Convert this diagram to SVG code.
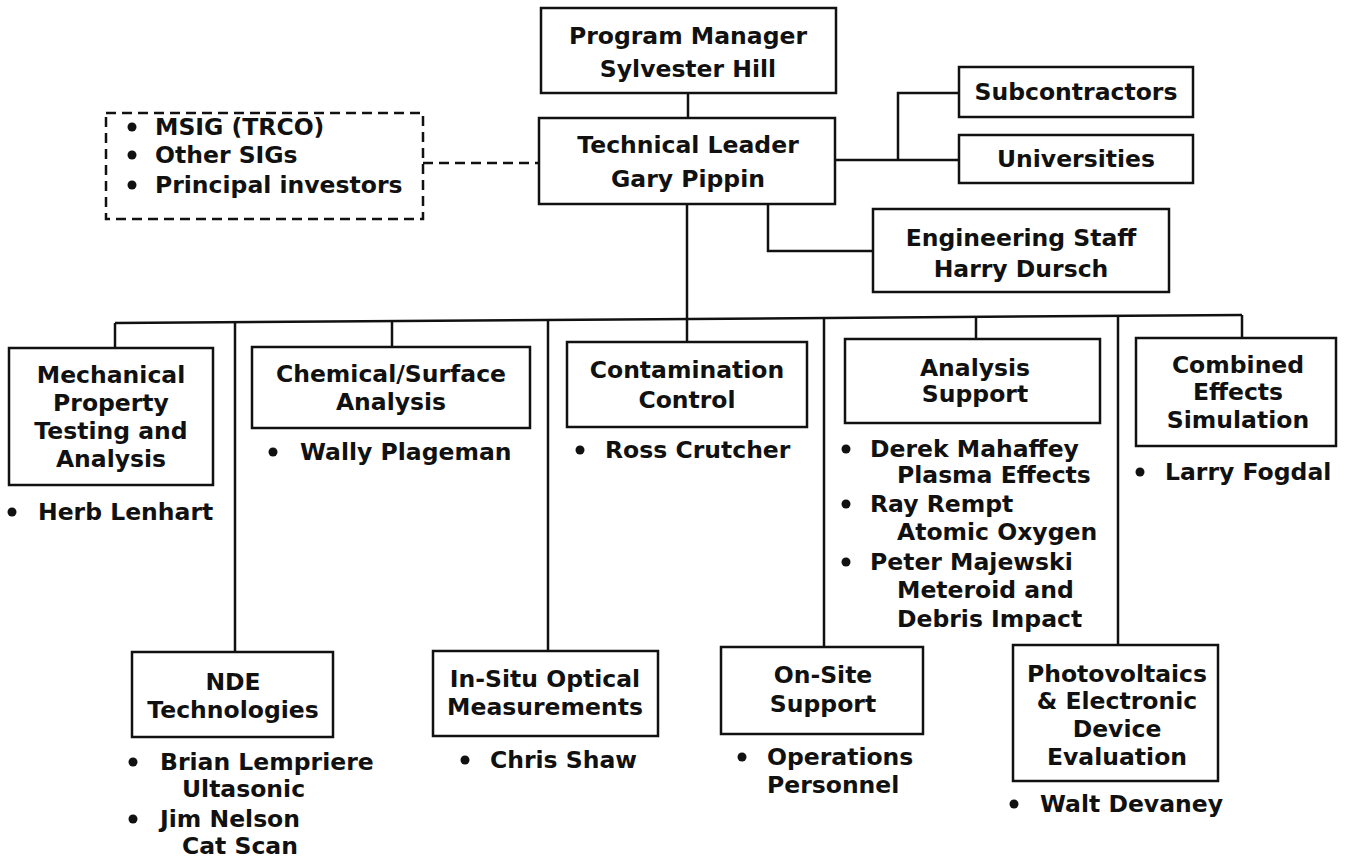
<svg xmlns="http://www.w3.org/2000/svg" width="1354" height="858" viewBox="0 0 1354 858">
  <style>
    .box { fill: #fff; stroke: #111; stroke-width: 2.5; }
    .ln { fill: none; stroke: #111; stroke-width: 2.5; }
    .dash { stroke-dasharray: 10 6; }
    text { font-family: "DejaVu Sans", "Liberation Sans", sans-serif; font-weight: bold; font-size: 23.5px; fill: #111; }
    .c { text-anchor: middle; }
    .dot { fill: #111; }
  </style>
  <rect width="1354" height="858" fill="#fff"/>

  <!-- connectors -->
  <g id="connectors">
    <path class="ln" d="M688 93 V118"/>
    <path class="ln dash" d="M423 163 H539"/>
    <path class="ln" d="M835 160 H959 M898 160 V93 H959"/>
    <path class="ln" d="M768 204 V251 H873"/>
    <path class="ln" d="M687 204 V342"/>
    <path class="ln" d="M115 323 L1242 315"/>
    <path class="ln" d="M115 323 V348"/>
    <path class="ln" d="M392 322 V347"/>
    <path class="ln" d="M976 316 V339"/>
    <path class="ln" d="M1242 315 V338"/>
    <path class="ln" d="M235 322 V652"/>
    <path class="ln" d="M548 319 V651"/>
    <path class="ln" d="M824 317 V647"/>
    <path class="ln" d="M1118 315 V645"/>
  </g>

  <g id="program-manager">
    <rect class="box" x="541" y="8" width="295" height="85"/>
    <text class="c" x="688" y="44">Program Manager</text>
    <text class="c" x="688" y="77">Sylvester Hill</text>
  </g>

  <g id="technical-leader">
    <rect class="box" x="539" y="118" width="296" height="86"/>
    <text class="c" x="688" y="153">Technical Leader</text>
    <text class="c" x="688" y="187">Gary Pippin</text>
  </g>

  <g id="advisors">
    <rect class="ln dash" x="106" y="113" width="317" height="106"/>
    <circle class="dot" cx="132" cy="127" r="4.5"/>
    <text x="155" y="135">MSIG (TRCO)</text>
    <circle class="dot" cx="132" cy="155" r="4.5"/>
    <text x="155" y="163">Other SIGs</text>
    <circle class="dot" cx="132" cy="185" r="4.5"/>
    <text x="155" y="193">Principal investors</text>
  </g>

  <g id="subcontractors">
    <rect class="box" x="959" y="67" width="234" height="50"/>
    <text class="c" x="1076" y="100">Subcontractors</text>
  </g>

  <g id="universities">
    <rect class="box" x="959" y="135" width="234" height="48"/>
    <text class="c" x="1076" y="167">Universities</text>
  </g>

  <g id="engineering-staff">
    <rect class="box" x="873" y="209" width="296" height="83"/>
    <text class="c" x="1021" y="246">Engineering Staff</text>
    <text class="c" x="1021" y="277">Harry Dursch</text>
  </g>

  <g id="mechanical">
    <rect class="box" x="9" y="348" width="204" height="137"/>
    <text class="c" x="111" y="383">Mechanical</text>
    <text class="c" x="111" y="411">Property</text>
    <text class="c" x="111" y="439">Testing and</text>
    <text class="c" x="111" y="467">Analysis</text>
    <circle class="dot" cx="12" cy="512" r="4.5"/>
    <text x="38" y="520">Herb Lenhart</text>
  </g>

  <g id="chemical">
    <rect class="box" x="252" y="347" width="278" height="81"/>
    <text class="c" x="391" y="382">Chemical/Surface</text>
    <text class="c" x="391" y="410">Analysis</text>
    <circle class="dot" cx="273" cy="452" r="4.5"/>
    <text x="300" y="460">Wally Plageman</text>
  </g>

  <g id="contamination">
    <rect class="box" x="567" y="342" width="240" height="85"/>
    <text class="c" x="687" y="378">Contamination</text>
    <text class="c" x="687" y="408">Control</text>
    <circle class="dot" cx="580" cy="450" r="4.5"/>
    <text x="605" y="458">Ross Crutcher</text>
  </g>

  <g id="analysis-support">
    <rect class="box" x="845" y="339" width="255" height="84"/>
    <text class="c" x="975" y="376">Analysis</text>
    <text class="c" x="975" y="402">Support</text>
    <circle class="dot" cx="846" cy="449" r="4.5"/>
    <text x="870" y="457">Derek Mahaffey</text>
    <text x="897" y="483">Plasma Effects</text>
    <circle class="dot" cx="846" cy="504" r="4.5"/>
    <text x="870" y="512">Ray Rempt</text>
    <text x="897" y="540">Atomic Oxygen</text>
    <circle class="dot" cx="846" cy="562" r="4.5"/>
    <text x="870" y="570">Peter Majewski</text>
    <text x="897" y="598">Meteroid and</text>
    <text x="897" y="627">Debris Impact</text>
  </g>

  <g id="combined-effects">
    <rect class="box" x="1136" y="338" width="200" height="108"/>
    <text class="c" x="1238" y="373">Combined</text>
    <text class="c" x="1238" y="400">Effects</text>
    <text class="c" x="1238" y="428">Simulation</text>
    <circle class="dot" cx="1140" cy="472" r="4.5"/>
    <text x="1165" y="480">Larry Fogdal</text>
  </g>

  <g id="nde">
    <rect class="box" x="132" y="652" width="201" height="85"/>
    <text class="c" x="233" y="690">NDE</text>
    <text class="c" x="233" y="718">Technologies</text>
    <circle class="dot" cx="133" cy="762" r="4.5"/>
    <text x="160" y="770">Brian Lempriere</text>
    <text x="182" y="797">Ultasonic</text>
    <circle class="dot" cx="133" cy="819" r="4.5"/>
    <text x="160" y="827">Jim Nelson</text>
    <text x="182" y="854">Cat Scan</text>
  </g>

  <g id="in-situ">
    <rect class="box" x="433" y="651" width="225" height="85"/>
    <text class="c" x="545" y="687">In-Situ Optical</text>
    <text class="c" x="545" y="715">Measurements</text>
    <circle class="dot" cx="465" cy="760" r="4.5"/>
    <text x="490" y="768">Chris Shaw</text>
  </g>

  <g id="on-site">
    <rect class="box" x="721" y="647" width="202" height="87"/>
    <text class="c" x="823" y="683">On-Site</text>
    <text class="c" x="823" y="712">Support</text>
    <circle class="dot" cx="742" cy="757" r="4.5"/>
    <text x="767" y="765">Operations</text>
    <text x="767" y="793">Personnel</text>
  </g>

  <g id="photovoltaics">
    <rect class="box" x="1013" y="645" width="205" height="136"/>
    <text class="c" x="1117" y="682">Photovoltaics</text>
    <text class="c" x="1117" y="709">&amp; Electronic</text>
    <text class="c" x="1117" y="737">Device</text>
    <text class="c" x="1117" y="765">Evaluation</text>
    <circle class="dot" cx="1014" cy="804" r="4.5"/>
    <text x="1040" y="812">Walt Devaney</text>
  </g>
</svg>
